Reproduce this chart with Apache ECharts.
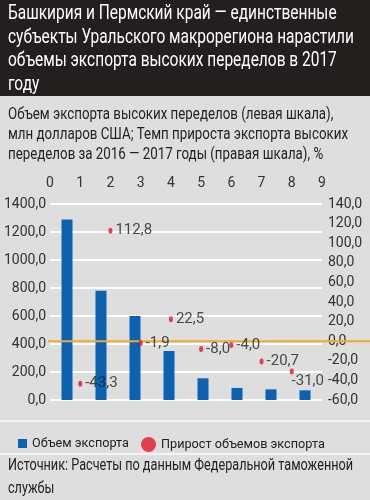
<!DOCTYPE html>
<html><head><meta charset="utf-8">
<script src="https://cdn.jsdelivr.net/npm/echarts@6/dist/echarts.min.js"></script>
<style>html,body{margin:0;padding:0;background:#dedede}#c{width:370px;height:500px}</style>
</head><body><div id="c"></div>
<script>
const categories = ['1', '2', '3', '4', '5', '6', '7', '8'];
const exportVolume = [1290, 780, 600, 350, 155, 86, 76, 69];
const growthX = [1, 2, 3, 4, 5, 6, 7, 8];
const growthRate = [-43.3, 112.8, -1.9, 22.5, -8.0, -4.0, -20.7, -31.0];
const titleLines = ['Башкирия и Пермский край — единственные', 'субъекты Уральского макрорегиона нарастили', 'объемы экспорта высоких переделов в 2017', 'году'];
const subtitleLines = ['Объем экспорта высоких переделов (левая шкала),', 'млн долларов США; Темп прироста экспорта высоких', 'переделов за 2016 — 2017 годы (правая шкала), %'];
const sourceLines = ['Источник: Расчеты по данным Федеральной таможенной', 'службы'];
const seriesNames = ['Объем экспорта', 'Прирост объемов экспорта'];

const FAM = 'Roboto';
const fmt = v => v.toFixed(1).replace('.', ',');

const ctx = document.createElement('canvas').getContext('2d');
function measure(text, size) { ctx.font = size + 'px ' + FAM; return ctx.measureText(text).width; }
function block(lines, size, targetWidth, x, top, lineHeight, color) {
  const w = Math.max(...lines.map(l => measure(l, size)));
  return { type: 'text', x: x, y: top, scaleX: targetWidth / w, scaleY: 1, z: 10,
    style: { text: lines.join('\n'), fontFamily: FAM, fontSize: size, lineHeight: lineHeight, fill: color,
      verticalAlign: 'top', align: 'left' } };
}
const legSize1 = Math.min(15, 15 * 97 / measure(seriesNames[0], 15));
const legSize2 = Math.min(15, 15 * 164 / measure(seriesNames[1], 15));

const chart = echarts.init(document.getElementById('c'));
chart.setOption({
  backgroundColor: '#dedede',
  animation: false,
  graphic: [
    { type: 'rect', x: 0, y: 0, shape: { width: 370, height: 96 }, style: { fill: '#231f1f' }, z: 1 },
    { type: 'rect', x: 0, y: 420, shape: { width: 370, height: 2 }, style: { fill: '#f4f4f4' }, z: 1 },
    { type: 'rect', x: 0, y: 453, shape: { width: 370, height: 2 }, style: { fill: '#f4f4f4' }, z: 1 },
    block(titleLines, 20, 346, 8, 2, 23.7, '#ffffff'),
    block(subtitleLines, 16, 340, 8, 105, 20, '#222222'),
    block(sourceLines, 16, 345, 8, 455, 22.5, '#222222')
  ],
  legend: [
    { data: [{ name: seriesNames[0], icon: 'rect' }], left: 13, top: 432, itemWidth: 9, itemHeight: 9,
      textStyle: { fontFamily: FAM, fontSize: legSize1, color: '#222' } },
    { data: [{ name: seriesNames[1], icon: 'circle' }], left: 136, top: 432, itemWidth: 15, itemHeight: 15,
      textStyle: { fontFamily: FAM, fontSize: legSize2, color: '#222' } }
  ],
  grid: { left: 50, right: 48, top: 204, bottom: 100, containLabel: false },
  xAxis: [
    { type: 'value', position: 'top', min: 0, max: 9, interval: 1,
      axisLine: { show: false }, axisTick: { show: false }, splitLine: { show: false },
      axisLabel: { fontFamily: FAM, fontSize: 14, color: '#333', margin: 14 } },
    { type: 'category', data: categories, show: false, boundaryGap: true }
  ],
  yAxis: [
    { type: 'value', min: 0, max: 1400, interval: 200,
      axisLine: { show: false }, axisTick: { show: false },
      splitLine: { lineStyle: { color: '#ffffff', width: 2 } },
      axisLabel: { fontFamily: FAM, fontSize: 14, color: '#333', margin: 4, formatter: fmt } },
    { type: 'value', min: -60, max: 140, interval: 20,
      axisLine: { show: false }, axisTick: { show: false }, splitLine: { show: false },
      axisLabel: { fontFamily: FAM, fontSize: 14, color: '#333', margin: 6, formatter: fmt } }
  ],
  series: [
    { name: seriesNames[0], type: 'bar', xAxisIndex: 1, yAxisIndex: 0, data: exportVolume,
      barWidth: 11, itemStyle: { color: '#0a62b0' }, z: 2 },
    { name: seriesNames[1], type: 'scatter', xAxisIndex: 0, yAxisIndex: 1,
      data: growthX.map((x, i) => {
        const item = { value: [x, growthRate[i]] };
        if (i === growthX.length - 1) item.label = { position: 'bottom', offset: [16, -4] };
        return item;
      }),
      symbol: 'circle', symbolSize: [4, 6], itemStyle: { color: '#e3142a' },
      label: { show: true, position: 'right', distance: 3, fontFamily: FAM, fontSize: 15, color: '#222',
        formatter: p => fmt(p.value[1]) },
      z: 5 }
  ]
});
// orange zero line of the right axis, position taken from the axis scale
const zeroY = chart.convertToPixel({ yAxisIndex: 1 }, 0);
chart.setOption({ graphic: [{ id: 'zero', type: 'rect', x: 48, y: zeroY - 1, shape: { width: 322, height: 2 },
  style: { fill: '#f0a830' }, z: 3 }] });
</script></body></html>
